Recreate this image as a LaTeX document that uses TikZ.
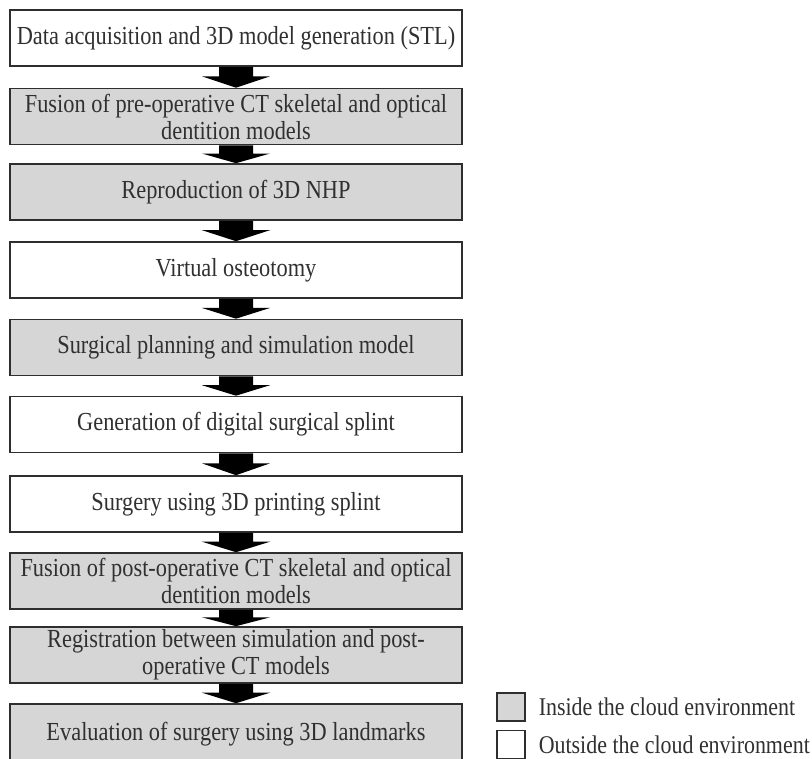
\documentclass[tikz,border=0pt]{standalone}
\usepackage{fontspec}
\setmainfont{Liberation Serif}[FakeStretch=0.86]
\usetikzlibrary{calc}
\definecolor{boxgray}{HTML}{D6D6D6}
\definecolor{edgecol}{HTML}{2E2E2E}
\definecolor{txtcol}{HTML}{303030}
\tikzset{
  stepbox/.style={draw=edgecol, line width=1.6pt, minimum width=452pt, minimum height=56pt,
    inner sep=0pt, align=center, text=txtcol, font=\fontsize{26}{27}\selectfont},
  inbox/.style={stepbox, fill=boxgray},
  outbox/.style={stepbox, fill=white},
  legbox/.style={draw=edgecol, line width=1.2pt, minimum width=28pt, minimum height=28pt, inner sep=0pt},
  legtext/.style={anchor=west, inner sep=0pt, text=txtcol, font=\fontsize{25.5}{27}\selectfont}
}
\newcommand\blockarr[2]{%
  \fill[black] let \p1=(#1.south), \p2=(#2.north), \n1={(\y1-\y2)*0.46} in
    (\x1-17pt,\y1) -- (\x1+17pt,\y1) -- (\x1+17pt,\y1-\n1) -- (\x1+34pt,\y1-\n1)
    -- (\x1,\y2) -- (\x1-34pt,\y1-\n1) -- (\x1-17pt,\y1-\n1) -- cycle;}
\begin{document}
\begin{tikzpicture}[x=1pt,y=-1pt]
\useasboundingbox[fill=white] (0,0) rectangle (812,759);
\node[outbox] (s1) at (236,38) {Data acquisition and 3D model generation (STL)};
\node[inbox] (s2) at (236,116.5) {Fusion of pre-operative CT skeletal and optical\\dentition models};
\node[inbox] (s3) at (236,192) {Reproduction of 3D NHP};
\node[outbox] (s4) at (236,270) {Virtual osteotomy};
\node[inbox] (s5) at (236,347.5) {Surgical planning and simulation model};
\node[outbox] (s6) at (236,424.5) {Generation of digital surgical splint};
\node[outbox] (s7) at (236,504) {Surgery using 3D printing splint};
\node[inbox] (s8) at (236,581) {Fusion of post-operative CT skeletal and optical\\dentition models};
\node[inbox] (s9) at (236,655) {Registration between simulation and post-\\operative CT models};
\node[inbox, minimum height=60pt] (s10) at (236,734) {Evaluation of surgery using 3D landmarks};
\blockarr{s1}{s2}
\blockarr{s2}{s3}
\blockarr{s3}{s4}
\blockarr{s4}{s5}
\blockarr{s5}{s6}
\blockarr{s6}{s7}
\blockarr{s7}{s8}
\blockarr{s8}{s9}
\blockarr{s9}{s10}
\node[legbox, fill=boxgray] (lg1) at (511,707) {};
\node[legbox, fill=white] (lg2) at (511,744.5) {};
\node[legtext] (lt1) at ($(lg1.east)+(13,0)$) {Inside the cloud environment};
\node[legtext] (lt2) at ($(lg2.east)+(13,0)$) {Outside the cloud environment};
\end{tikzpicture}
\end{document}
